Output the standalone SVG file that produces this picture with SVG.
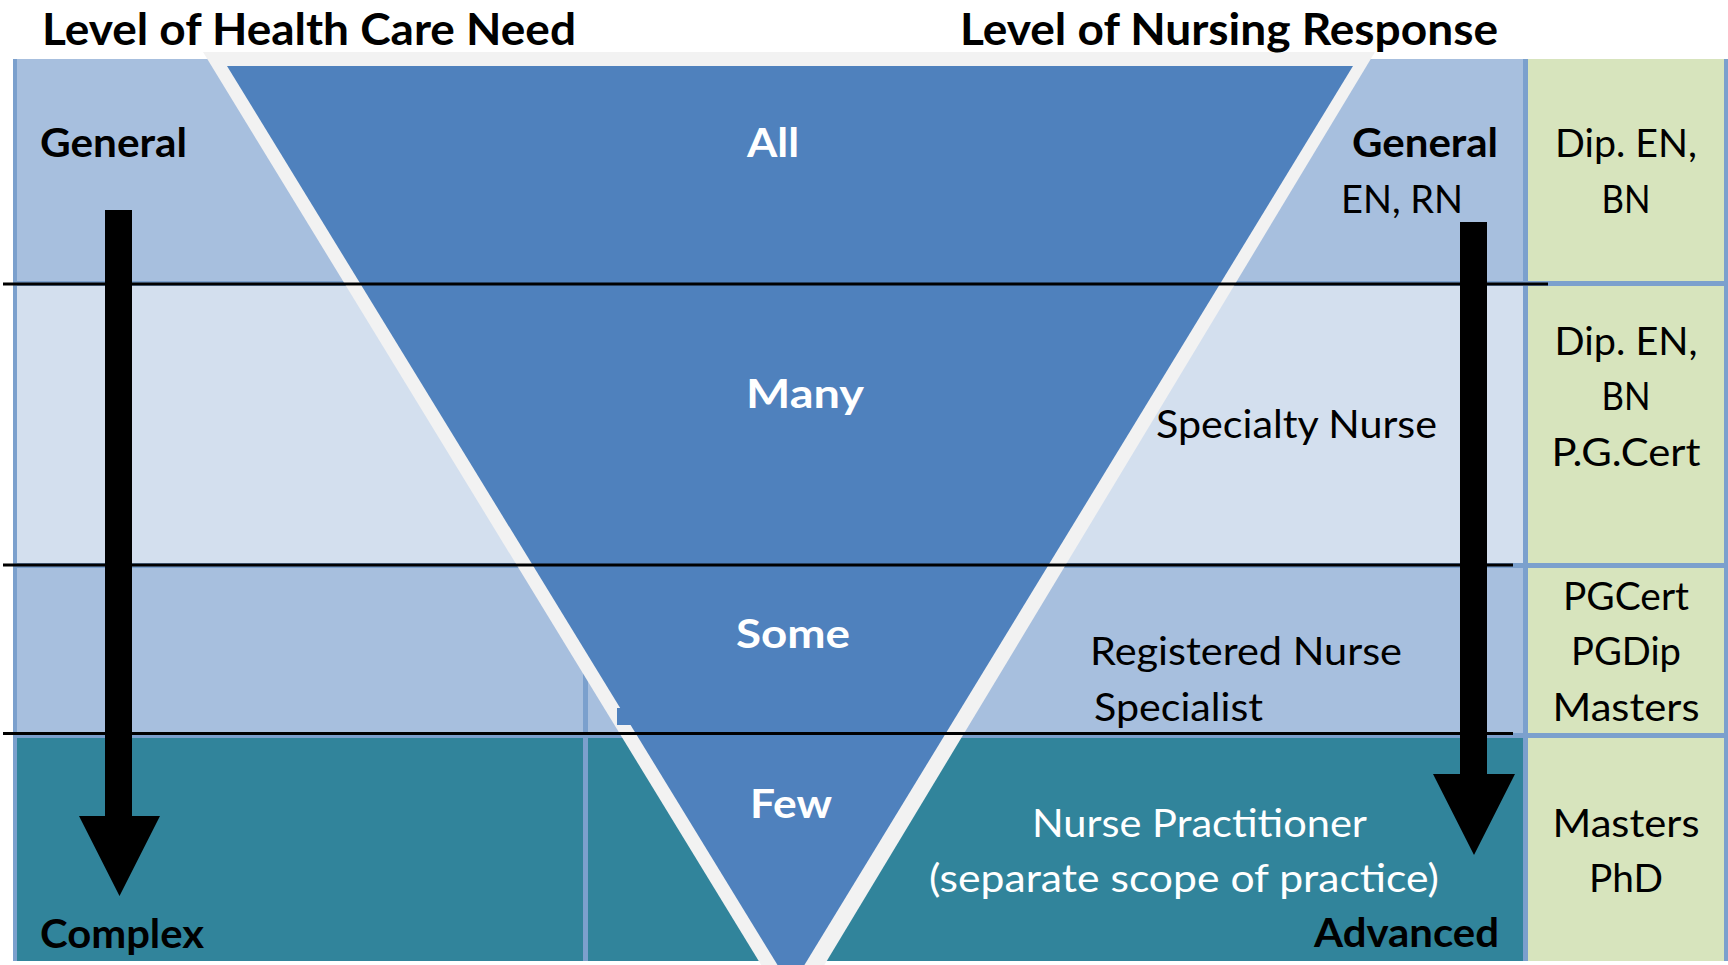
<svg xmlns="http://www.w3.org/2000/svg" width="1728" height="965" viewBox="0 0 1728 965">
<style>
text{font-family:Lato,"Open Sans","Liberation Sans",sans-serif;}
.title{font-size:44px;font-weight:bold;fill:#000;}
.lbl{font-size:40px;font-weight:bold;fill:#000;}
.wl{font-size:41px;font-weight:bold;fill:#fff;}
.tx{font-size:38px;fill:#000;}
.wt{font-size:38px;fill:#fff;}
.mid{text-anchor:middle;}
.c1{fill:#a7bfde;}
.c2{fill:#d3dfee;}
.c4{fill:#31849b;}
.cg{fill:#d7e4bd;}
.sep{stroke:#000;stroke-width:3;fill:none;}
.arrow{fill:#000;}
</style>
<rect width="1728" height="965" fill="#fff"/>
<g id="table">
<rect x="13" y="59" width="1715" height="902" fill="#7ba0cd"/>
<rect class="c1" x="17" y="59" width="1506" height="222"/>
<rect class="c2" x="17" y="286" width="1506" height="277"/>
<rect class="c1" x="17" y="568" width="566" height="165"/>
<rect class="c1" x="588" y="568" width="935" height="165"/>
<rect class="c4" x="17" y="738" width="566" height="223"/>
<rect class="c4" x="588" y="738" width="935" height="223"/>
</g>
<g id="qualifications">
<rect class="cg" x="1528" y="59" width="196" height="222"/>
<rect class="cg" x="1528" y="286" width="196" height="277"/>
<rect class="cg" x="1528" y="568" width="196" height="165"/>
<rect class="cg" x="1528" y="738" width="196" height="223"/>
</g>
<g id="triangle">
<polygon points="203,52 1375,52 793,1017" fill="#f2f2f2"/>
<polygon points="227,66 1353,66 791,987" fill="#4f81bd"/>
<rect x="617" y="708" width="22" height="17" fill="#4f81bd"/>
</g>
<g id="separators">
<line class="sep" x1="3" y1="284" x2="1548" y2="284"/>
<line class="sep" x1="3" y1="565" x2="1513" y2="565"/>
<line class="sep" x1="3" y1="733.5" x2="1513" y2="733.5"/>
</g>
<g id="connectors">
<polygon class="arrow" points="105,210 132,210 132,816 160,816 119.5,896 79,816 105,816"/>
<polygon class="arrow" points="1460,222 1487,222 1487,774 1515,774 1474,855 1433,774 1460,774"/>
</g>
<g id="titles">
<text class="title" x="42" y="45" textLength="534" lengthAdjust="spacingAndGlyphs">Level of Health Care Need</text>
<text class="title" x="960" y="45" textLength="538" lengthAdjust="spacingAndGlyphs">Level of Nursing Response</text>
</g>
<g id="need-axis">
<text class="lbl" x="40" y="157" textLength="147" lengthAdjust="spacingAndGlyphs">General</text>
<text class="lbl" x="40" y="948" textLength="164" lengthAdjust="spacingAndGlyphs">Complex</text>
</g>
<g id="need-levels">
<text class="wl" x="747" y="157" textLength="52" lengthAdjust="spacingAndGlyphs">All</text>
<text class="wl" x="746" y="408" textLength="118" lengthAdjust="spacingAndGlyphs">Many</text>
<text class="wl" x="736" y="648" textLength="114" lengthAdjust="spacingAndGlyphs">Some</text>
<text class="wl" x="750" y="818" textLength="82" lengthAdjust="spacingAndGlyphs">Few</text>
</g>
<g id="response-general">
<text class="lbl" x="1352" y="157" textLength="146" lengthAdjust="spacingAndGlyphs">General</text>
<text class="tx" x="1341" y="213" textLength="122" lengthAdjust="spacingAndGlyphs">EN, RN</text>
</g>
<g id="response-specialty">
<text class="tx" x="1156" y="438" textLength="281" lengthAdjust="spacingAndGlyphs">Specialty Nurse</text>
</g>
<g id="response-specialist">
<text class="tx" x="1090" y="665" textLength="312" lengthAdjust="spacingAndGlyphs">Registered Nurse</text>
<text class="tx" x="1094" y="721" textLength="169" lengthAdjust="spacingAndGlyphs">Specialist</text>
</g>
<g id="response-practitioner">
<text class="wt" x="1032" y="837" textLength="335" lengthAdjust="spacingAndGlyphs">Nurse Practitioner</text>
<text class="wt" x="929" y="892" textLength="510" lengthAdjust="spacingAndGlyphs">(separate scope of practice)</text>
<text class="lbl" x="1314" y="947" textLength="185" lengthAdjust="spacingAndGlyphs">Advanced</text>
</g>
<g id="qual-text">
<text class="tx mid" x="1626" y="157" textLength="142" lengthAdjust="spacingAndGlyphs">Dip. EN,</text>
<text class="tx mid" x="1626" y="213" textLength="49" lengthAdjust="spacingAndGlyphs">BN</text>
<text class="tx mid" x="1626" y="355" textLength="143" lengthAdjust="spacingAndGlyphs">Dip. EN,</text>
<text class="tx mid" x="1626" y="410" textLength="49" lengthAdjust="spacingAndGlyphs">BN</text>
<text class="tx mid" x="1626" y="466" textLength="149" lengthAdjust="spacingAndGlyphs">P.G.Cert</text>
<text class="tx mid" x="1626" y="610" textLength="126" lengthAdjust="spacingAndGlyphs">PGCert</text>
<text class="tx mid" x="1626" y="665" textLength="110" lengthAdjust="spacingAndGlyphs">PGDip</text>
<text class="tx mid" x="1626" y="721" textLength="147" lengthAdjust="spacingAndGlyphs">Masters</text>
<text class="tx mid" x="1626" y="837" textLength="147" lengthAdjust="spacingAndGlyphs">Masters</text>
<text class="tx mid" x="1626" y="892" textLength="74" lengthAdjust="spacingAndGlyphs">PhD</text>
</g>
</svg>
